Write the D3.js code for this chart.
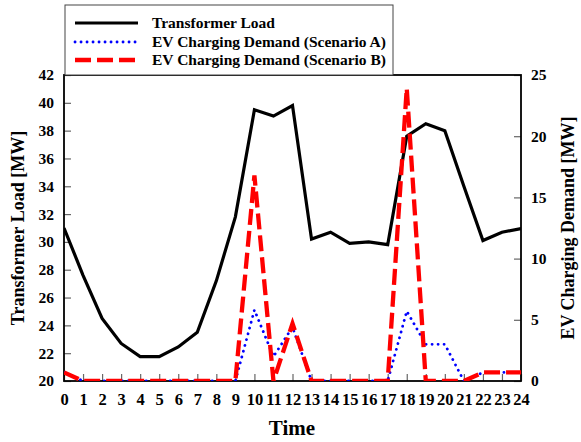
<!DOCTYPE html>
<html><head><meta charset="utf-8">
<script src="https://cdn.jsdelivr.net/npm/d3@7"></script>
<style>body{margin:0;background:#fff}svg{display:block}text{font-family:"Liberation Serif","Times New Roman",serif;font-weight:bold}</style>
</head><body><svg id="c" width="581" height="442"></svg>
<script>
const hours = d3.range(0, 25);
const transformerLoad = [31.0, 27.6, 24.5, 22.7, 21.75, 21.75, 22.45, 23.5, 27.2, 31.8, 39.5, 39.05, 39.8, 30.2, 30.7, 29.9, 30.0, 29.8, 37.6, 38.5, 38.0, 34.0, 30.1, 30.7, 30.95];
const evScenarioA = [0.7, 0, 0, 0, 0, 0, 0, 0, 0, 0, 5.8, 2.0, 4.4, 0, 0, 0, 0, 0, 5.7, 3.0, 3.0, 0, 0.7, 0.7, 0.7];
const evScenarioB = [0.7, 0, 0, 0, 0, 0, 0, 0, 0, 0, 16.8, 0, 4.7, 0, 0, 0, 0, 0, 23.9, 0, 0, 0, 0.7, 0.7, 0.7];
const leftTicks = d3.range(20, 43, 2);
const rightTicks = [0, 5, 10, 15, 20, 25];
const legendLabels = ["Transformer Load", "EV Charging Demand (Scenario A)", "EV Charging Demand (Scenario B)"];

const svg = d3.select("#c");
const L = 64, R = 521, T = 75, B = 381;
const x = d3.scaleLinear().domain([0, 24]).range([L, R]);
const yL = d3.scaleLinear().domain([20, 42]).range([B, T]);
const yR = d3.scaleLinear().domain([0, 25]).range([B, T]);

function styleAxis(g, size) {
  g.select(".domain").remove();
  g.selectAll(".tick line").attr("stroke", "#666").attr("stroke-width", 1.2);
  g.selectAll("text").attr("font-size", size).attr("fill", "#000");
}
svg.append("g").attr("transform", `translate(0,${B})`)
  .call(d3.axisBottom(x).tickValues(hours).tickFormat(d3.format("d")).tickSizeInner(-7).tickPadding(12))
  .call(g => styleAxis(g, 16.5));
svg.append("g").attr("transform", `translate(${L},0)`)
  .call(d3.axisLeft(yL).tickValues(leftTicks).tickSizeInner(-7).tickPadding(10))
  .call(g => styleAxis(g, 15.5));
svg.append("g").attr("transform", `translate(${R},0)`)
  .call(d3.axisRight(yR).tickValues(rightTicks).tickSizeInner(-7).tickPadding(10))
  .call(g => styleAxis(g, 15.5));

// frame
svg.append("rect").attr("x", L).attr("y", T).attr("width", R - L).attr("height", B - T)
  .attr("fill", "none").attr("stroke", "#000").attr("stroke-width", 1.8);

// lines
svg.append("clipPath").attr("id", "pc").append("rect")
  .attr("x", L).attr("y", T - 2).attr("width", R - L).attr("height", B - T + 2);
const lineL = d3.line().x((d, i) => x(hours[i])).y(d => yL(d));
const lineR = d3.line().x((d, i) => x(hours[i])).y(d => yR(d));
const pg = svg.append("g").attr("clip-path", "url(#pc)");
pg.append("path").datum(transformerLoad).attr("d", lineL).attr("fill", "none")
  .attr("stroke", "#000").attr("stroke-width", 3.2).attr("stroke-linejoin", "miter");
pg.append("path").datum(evScenarioA).attr("d", lineR).attr("fill", "none")
  .attr("stroke", "#0000ff").attr("stroke-width", 2.8).attr("stroke-linecap", "round")
  .attr("stroke-dasharray", "0.1,5.9");
pg.append("path").datum(evScenarioB).attr("d", lineR).attr("fill", "none")
  .attr("stroke", "#ff0000").attr("stroke-width", 4.3).attr("stroke-dasharray", "16,6");

// axis titles
svg.append("text").attr("x", 292).attr("y", 435).attr("text-anchor", "middle")
  .attr("font-size", 21).text("Time");
svg.append("text").attr("transform", "translate(24,228) rotate(-90)").attr("text-anchor", "middle")
  .attr("font-size", 18).text("Transformer Load [MW]");
svg.append("text").attr("transform", "translate(574,228) rotate(-90)").attr("text-anchor", "middle")
  .attr("font-size", 18).text("EV Charging Demand [MW]");

// legend
const lg = svg.append("g");
lg.append("rect").attr("x", 65).attr("y", 5).attr("width", 328).attr("height", 70)
  .attr("fill", "#fff").attr("stroke", "#444").attr("stroke-width", 1);
const legStyles = [
  {c: "#000", w: 3.2, d: null, cap: "butt"},
  {c: "#0000ff", w: 2.8, d: "0.1,5.9", cap: "round"},
  {c: "#ff0000", w: 4.3, d: "16,6", cap: "butt"}
];
const legY = [23, 42, 60];
legendLabels.forEach((lab, i) => {
  const s = legStyles[i];
  lg.append("line").attr("x1", 75).attr("x2", 138).attr("y1", legY[i]).attr("y2", legY[i])
    .attr("stroke", s.c).attr("stroke-width", s.w).attr("stroke-linecap", s.cap)
    .attr("stroke-dasharray", s.d);
  lg.append("text").attr("x", 152).attr("y", legY[i] + 5).attr("font-size", 15.5).text(lab);
});
</script></body></html>
